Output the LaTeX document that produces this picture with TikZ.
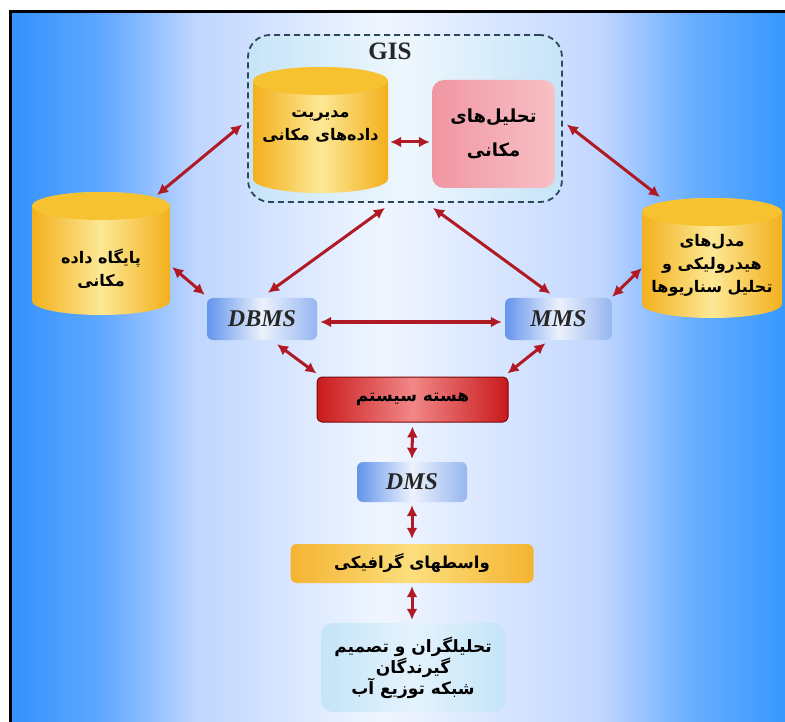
\documentclass[tikz,border=0pt]{standalone}
\usepackage{fontspec}
\setmainfont{Liberation Serif}
\newfontfamily\fa[Script=Arabic]{DejaVu Sans}
\TeXXeTstate=1
\usetikzlibrary{arrows.meta,calc}

\definecolor{bgA}{RGB}{52,145,252}
\definecolor{bgB}{RGB}{96,168,255}
\definecolor{bgC}{RGB}{192,214,255}
\definecolor{bgD}{RGB}{240,246,255}
\definecolor{bgE}{RGB}{195,215,255}
\definecolor{bgF}{RGB}{104,174,255}
\definecolor{bgG}{RGB}{55,152,255}
\definecolor{arrred}{RGB}{176,26,36}
\definecolor{cylA}{RGB}{243,176,28}
\definecolor{cylB}{RGB}{253,232,150}
\definecolor{cylT}{RGB}{247,194,48}
\definecolor{gisA}{RGB}{198,228,248}
\definecolor{gisB}{RGB}{238,247,253}
\definecolor{gisline}{RGB}{45,70,90}
\definecolor{pinkA}{RGB}{240,150,162}
\definecolor{pinkB}{RGB}{248,192,198}
\definecolor{mbA}{RGB}{100,148,236}
\definecolor{mbB}{RGB}{236,242,252}
\definecolor{mbC}{RGB}{150,182,240}
\definecolor{redA}{RGB}{200,26,28}
\definecolor{redB}{RGB}{242,135,135}
\definecolor{redL}{RGB}{120,10,10}
\definecolor{orA}{RGB}{245,180,50}
\definecolor{orB}{RGB}{252,222,125}
\definecolor{usA}{RGB}{196,228,248}
\definecolor{usB}{RGB}{228,243,252}

\pgfdeclarehorizontalshading{bgshade}{100bp}{color(0bp)=(bgA); color(25bp)=(bgA); color(31bp)=(bgB); color(37bp)=(bgC); color(49bp)=(bgD); color(63bp)=(bgE); color(69bp)=(bgF); color(75bp)=(bgG); color(100bp)=(bgG)}

\newcommand{\faline}[1]{\beginR #1\endR}

\tikzset{
  arr/.style={draw=arrred, line width=3pt, {Latex[length=11pt,width=11pt]}-{Latex[length=11pt,width=11pt]}},
  cylbody/.style={left color=cylA, right color=cylA, middle color=cylB},
  cyltop/.style={fill=cylT},
  fatxt/.style={font=\fa\bfseries\fontsize{16}{23}\selectfont, align=center, text=black},
  lattxt/.style={font=\bfseries\itshape\fontsize{24}{24}\selectfont, text=black!85},
  mbox/.style={rounded corners=6pt, inner sep=0pt, left color=mbA, right color=mbC, middle color=mbB},
}

\begin{document}
\begin{tikzpicture}[x=1pt,y=-1pt]
\useasboundingbox (0,0) rectangle (785,722);
\fill[white] (0,0) rectangle (785,722);
\shade[shading=bgshade] (10,12) rectangle (785,722);
\draw[line width=3pt, black] (10,722) -- (10,12) -- (785,12);

% GIS group
\node[draw=gisline, dashed, dash pattern=on 6pt off 4pt, line width=1.8pt, rounded corners=22pt,
      minimum width=314pt, minimum height=167pt, left color=gisA, right color=gisA, middle color=gisB] (gis) at (405,118.5) {};
\node[font=\bfseries\fontsize{25}{25}\selectfont, text=black!85] (gislabel) at (390,51) {GIS};

% cylinders (drawn shapes)
\path[cylbody] (253,81) -- (253,179) arc[start angle=180,end angle=360,x radius=67.5pt,y radius=14pt] -- (388,81) arc[start angle=0,end angle=180,x radius=67.5pt,y radius=14pt] -- cycle;
\path[cyltop] (320.5,81) ellipse [x radius=67.5pt, y radius=14pt];
\path[cylbody] (32,206) -- (32,301) arc[start angle=180,end angle=360,x radius=69pt,y radius=14pt] -- (170,206) arc[start angle=0,end angle=180,x radius=69pt,y radius=14pt] -- cycle;
\path[cyltop] (101,206) ellipse [x radius=69pt, y radius=14pt];
\path[cylbody] (642,212) -- (642,304) arc[start angle=180,end angle=360,x radius=70pt,y radius=14pt] -- (782,212) arc[start angle=0,end angle=180,x radius=70pt,y radius=14pt] -- cycle;
\path[cyltop] (712,212) ellipse [x radius=70pt, y radius=14pt];

\node[fatxt, minimum width=135pt] (gisdb) at (320.5,127) {\faline{مدیریت}\\\faline{داده‌های مکانی}};
\node[fatxt, font=\fa\bfseries\fontsize{18}{34}\selectfont, rounded corners=12pt, minimum width=123pt, minimum height=108pt,
      left color=pinkA, right color=pinkB] (gisan) at (493.5,134) {\faline{تحلیل‌های}\\\faline{مکانی}};
\node[fatxt, minimum width=138pt] (lcyl) at (101,269) {\faline{پایگاه داده}\\\faline{مکانی}};
\node[fatxt, minimum width=140pt] (rcyl) at (712,265) {\faline{مدل‌های}\\\faline{هیدرولیکی و}\\\faline{تحلیل سناریوها}};

% middle layer
\node[mbox, minimum width=110pt, minimum height=42pt, lattxt] (dbms) at (262,319) {DBMS};
\node[mbox, minimum width=107pt, minimum height=42pt, lattxt] (mms) at (558.5,319) {MMS};
\node[draw=redL, line width=1pt, rounded corners=5pt, minimum width=191pt, minimum height=45pt,
      left color=redA, right color=redA, middle color=redB, fatxt, font=\fa\bfseries\fontsize{17}{22}\selectfont] (core) at (412.5,399.5) {\faline{هسته سیستم}};
\node[mbox, minimum width=110pt, minimum height=40pt, lattxt] (dms) at (412,482) {DMS};
\node[rounded corners=6pt, minimum width=243pt, minimum height=39pt, left color=orA, right color=orA, middle color=orB, fatxt, font=\fa\bfseries\fontsize{16.5}{22}\selectfont] (iface) at (412,563.5) {\faline{واسطهای گرافیکی}};
\node[rounded corners=12pt, minimum width=184pt, minimum height=89pt, left color=usA, right color=usA, middle color=usB,
      fatxt, font=\fa\bfseries\fontsize{17}{21}\selectfont] (users) at (413,667.5) {\faline{تحلیلگران  و تصمیم}\\\faline{گیرندگان}\\\faline{شبکه توزیع آب}};

% connectors
\draw[arr] ($(gisdb.east)+(2,15)$) -- ($(gisan.west)+(-2,8)$);
\draw[arr] ($(gis.west)+(-5,6)$) -- ($(lcyl.center)+(56,-74)$);
\draw[arr] ($(gis.east)+(4,6)$) -- ($(rcyl.center)+(-52,-68)$);
\draw[arr] ($(lcyl.east)+(2,-2)$) -- ($(dbms.north west)+(-2,-3)$);
\draw[arr] ($(rcyl.west)+(0,3)$) -- ($(mms.north east)+(0,-1)$);
\draw[arr] ($(gis.south)+(-20,5)$) -- ($(dbms.north)+(6,-5)$);
\draw[arr] ($(gis.south)+(28,5)$) -- ($(mms.north)+(-8,-4)$);
\draw[arr] ($(dbms.east)+(3,3)$) -- ($(mms.west)+(-3,3)$);
\draw[arr] ($(dbms.south)+(15,4)$) -- ($(core.north west)+(0,-3)$);
\draw[arr] ($(mms.south)+(-13,3)$) -- ($(core.north east)+(-1,-3)$);
\draw[arr] ($(core.south)+(0,4)$) -- ($(dms.north)+(0,-3)$);
\draw[arr] ($(dms.south)+(0,3)$) -- ($(iface.north)+(0,-5)$);
\draw[arr] ($(iface.south)+(0,3)$) -- ($(users.north)+(-1,-3)$);
\end{tikzpicture}
\end{document}
